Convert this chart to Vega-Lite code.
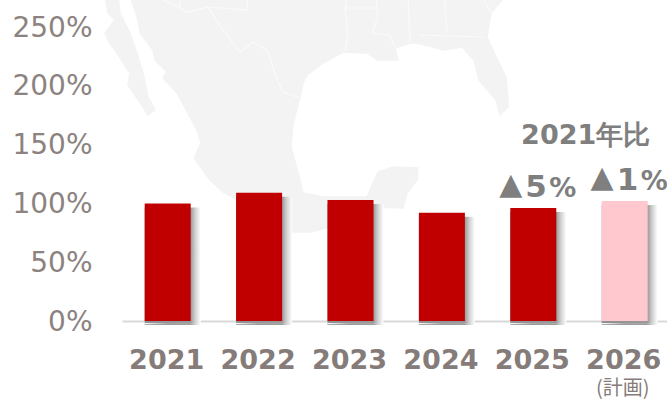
{"$schema":"https://vega.github.io/schema/vega-lite/v6.json","width":545,"height":321,"autosize":{"type":"none"},"padding":{"left":122,"top":0,"right":0,"bottom":79},"background":"white","config":{"view":{"stroke":null}},
"datasets":{"bars":[{"year":"2021","value":100,"kind":"actual"},{"year":"2022","value":109,"kind":"actual"},{"year":"2023","value":103,"kind":"actual"},{"year":"2024","value":92,"kind":"actual"},{"year":"2025","value":96,"kind":"actual"},{"year":"2026","value":102,"kind":"plan"}],
"notes":[{"year":"2025","value":96,"tri":"▲","num":"5","unit":"%"},{"year":"2026","value":102,"tri":"▲","num":"1","unit":"%"}],
"header":[{"year":"2026","value":157,"text":"2021年比"}],"plan":[{"year":"2026","text":"(計画)"}]},
"layer":[
{"data":{"values":{"type":"FeatureCollection","features":[
{"type":"Feature","properties":{"name":"Baja"},"geometry":{"type":"Polygon","coordinates":[[[-109.5,34.5],[-109.2,32.7],[-108.5,32],[-109.5,30.7],[-109.2,30],[-108.3,28.7],[-107,26.7],[-107.2,25.5],[-105.7,23.3],[-105.2,22.5],[-104.5,23],[-105.2,24.3],[-105.7,26.7],[-106.2,28.3],[-107,30.7],[-108,32.7],[-108.2,34.5],[-109.5,34.5]]]}},
{"type":"Feature","properties":{"name":"Mainland"},"geometry":{"type":"Polygon","coordinates":[[[-107,34.5],[-106.2,32],[-106,30.7],[-104.7,29],[-104.5,28],[-103.3,26.8],[-103.7,26.2],[-102.3,24.7],[-100.3,21],[-99.9,19.7],[-100.6,18.2],[-99,16],[-97.7,14.8],[-91.8,11.7],[-90.7,10.8],[-89,10.8],[-87.3,11.2],[-82.7,13.3],[-79.7,13.2],[-79.3,14.7],[-78.3,16],[-78.2,17.2],[-80.7,17.3],[-82.2,16.8],[-82.7,15.7],[-83.3,14.3],[-87.7,14.3],[-89.7,14.7],[-90.2,16.7],[-90.9,19.3],[-90.7,21.5],[-90.3,23.2],[-90,24.2],[-89.7,25.7],[-89.3,26.5],[-87.7,27.7],[-85.7,28.8],[-83.3,28.7],[-82.3,28],[-80.2,28],[-80.5,29.2],[-79,29.7],[-78.3,29.7],[-75.6,29],[-73.8,29.3],[-72.6,28],[-72.1,26],[-70.4,24],[-70,22.5],[-69.2,23.3],[-69.2,24],[-69.4,26.3],[-70.4,28.3],[-71.3,30.3],[-70.9,32.7],[-69.4,34.5],[-107,34.5]]]}}]},"format":{"type":"json","property":"features"}},
"mark":{"type":"geoshape","fill":"#F3F3F3","stroke":"#F3F3F3","strokeWidth":1.5,"strokeJoin":"round","clip":false},"encoding":{},"projection":{"type":"identity","reflectY":true,"scale":10,"translate":[1078,340]}},
{"data":{"values":{"type":"FeatureCollection","features":[
{"type":"Feature","properties":{"name":"Borders"},"geometry":{"type":"MultiLineString","coordinates":[[[-104.8,34.5],[-102,33.2],[-101.3,32.8],[-99.2,33.3],[-95.3,33],[-95.2,34.5]],[[-102,34.5],[-102,33.2]],[[-99.2,33.3],[-97.7,31],[-96,28.8],[-94.7,29.8],[-93.3,29],[-92.3,26],[-91.7,24.8],[-90,24.2]],[[-85.3,34.5],[-85.5,33.2],[-85.2,30.7],[-85.5,28.8]],[[-85.5,33.2],[-82.3,33.2],[-82.2,32.3],[-82.8,30.7],[-81,30.5],[-80.5,29.2]],[[-82.3,34.5],[-82.3,33.2]],[[-79.2,34.5],[-79,29.7]],[[-75.6,34.5],[-75.3,30.7]],[[-78.1,30.5],[-71.7,30.3]],[[-71.9,34.5],[-70.9,32.7]]]}}]},"format":{"type":"json","property":"features"}},
"mark":{"type":"geoshape","fill":null,"filled":false,"stroke":"#FAFAFA","strokeWidth":1.2,"clip":false},"encoding":{},"projection":{"type":"identity","reflectY":true,"scale":10,"translate":[1078,340]}},
{"data":{"name":"bars"},"mark":{"type":"bar","size":56,"xOffset":5,"yOffset":4,"y2Offset":0,"fill":{"gradient":"linear","x1":0,"x2":1,"y1":0,"y2":0,"stops":[{"offset":0,"color":"#909090"},{"offset":0.82,"color":"#9a9a9a"},{"offset":0.9,"color":"#d0d0d0"},{"offset":1,"color":"#ffffff"}]}},
"encoding":{"x":{"field":"year","type":"nominal","scale":{"paddingInner":0.5,"paddingOuter":0.25,"range":[0,548.4]},"axis":{"title":null,"domainColor":"#D9D9D9","domainWidth":2,"ticks":false,"labelAngle":0,"labelFont":"DejaVu Sans","labelFontWeight":"bold","labelFontSize":27,"labelColor":"#857C7A","labelPadding":26,"labelOffset":-1}},"y":{"field":"value","type":"quantitative","scale":{"domain":[0,273],"nice":false},"axis":{"title":null,"grid":false,"domain":false,"ticks":false,"values":[0,50,100,150,200,250],"labelExpr":"datum.value+'%'","labelFont":"DejaVu Sans","labelFontSize":28,"labelColor":"#8C8380","labelPadding":30,"labelOffset":1}}}},
{"data":{"name":"bars"},"mark":{"type":"bar","size":56,"xOffset":5,"fill":{"gradient":"linear","x1":0,"x2":1,"y1":0,"y2":0,"stops":[{"offset":0,"color":"#ffffff"},{"offset":0.4,"color":"#a8a8a8"},{"offset":0.8,"color":"#a8a8a8"},{"offset":1,"color":"#ffffff"}]},"yOffset":2,"y2Offset":2},"encoding":{"x":{"field":"year","type":"nominal"},"y":{"datum":0,"type":"quantitative"},"y2":{"datum":-1}}},
{"data":{"name":"bars"},"mark":{"type":"bar","size":46},"encoding":{"x":{"field":"year","type":"nominal"},"y":{"field":"value","type":"quantitative"},"color":{"field":"kind","type":"nominal","scale":{"domain":["actual","plan"],"range":["#C00000","#FFC7CE"]},"legend":null}}},
{"data":{"name":"notes"},"mark":{"type":"text","font":"DejaVu Sans","fontWeight":"bold","fontSize":30,"color":"#7F7F7F","align":"right","baseline":"alphabetic","dx":-11,"dy":-14},"encoding":{"x":{"field":"year","type":"nominal"},"y":{"field":"value","type":"quantitative"},"text":{"field":"tri"}}},
{"data":{"name":"notes"},"mark":{"type":"text","font":"DejaVu Sans","fontWeight":"bold","fontSize":31,"color":"#7F7F7F","align":"left","baseline":"alphabetic","dx":-8,"dy":-11},"encoding":{"x":{"field":"year","type":"nominal"},"y":{"field":"value","type":"quantitative"},"text":{"field":"num"}}},
{"data":{"name":"notes"},"mark":{"type":"text","font":"DejaVu Sans","fontWeight":"bold","fontSize":27,"color":"#7F7F7F","align":"left","baseline":"alphabetic","dx":16,"dy":-11},"encoding":{"x":{"field":"year","type":"nominal"},"y":{"field":"value","type":"quantitative"},"text":{"field":"unit"}}},
{"data":{"name":"header"},"mark":{"type":"text","font":"DejaVu Sans","fontWeight":"bold","fontSize":27,"color":"#7F7F7F","dx":-39},"encoding":{"x":{"field":"year","type":"nominal"},"y":{"field":"value","type":"quantitative"},"text":{"field":"text"}}},
{"data":{"name":"plan"},"mark":{"type":"text","font":"Noto Sans CJK JP","fontSize":20,"color":"#857C7A","dx":-2,"dy":68},"encoding":{"x":{"field":"year","type":"nominal"},"y":{"datum":0,"type":"quantitative"},"text":{"field":"text"}}}
]}
